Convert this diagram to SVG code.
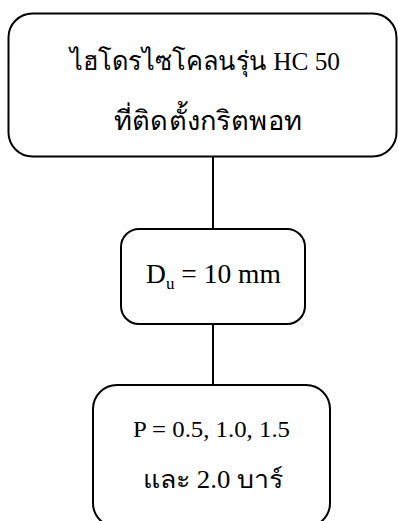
<svg xmlns="http://www.w3.org/2000/svg" width="398" height="521" viewBox="0 0 398 521">
<style>
.box{fill:#fff;stroke:#000;stroke-width:2}
.t{font-family:"Liberation Serif","Times New Roman",serif;fill:#000;text-anchor:middle}
.c{stroke:#000;stroke-width:2;fill:none}
</style>
<rect width="398" height="521" fill="#fff"/>
<g id="connectors">
<line class="c" x1="213" y1="157" x2="213" y2="229"/>
<line class="c" x1="213" y1="324" x2="213" y2="385"/>
</g>
<g id="node1">
<rect class="box" x="8.5" y="13.5" width="388" height="143" rx="24"/>
<text class="t" x="205" y="70" font-size="26" textLength="270" lengthAdjust="spacingAndGlyphs">ไฮโดรไซโคลนรุ่น HC 50</text>
<text class="t" x="208" y="130" font-size="27" textLength="188" lengthAdjust="spacingAndGlyphs">ที่ติดตั้งกริตพอท</text>
</g>
<g id="node2">
<rect class="box" x="121" y="229" width="184" height="95" rx="18"/>
<text class="t" x="213.5" y="283" font-size="27.5">D<tspan font-size="17" dy="6">u</tspan><tspan dy="-6"> = 10 mm</tspan></text>
</g>
<g id="node3">
<rect class="box" x="93" y="385" width="237" height="142" rx="24"/>
<text class="t" x="211.5" y="437" font-size="23" textLength="157" lengthAdjust="spacingAndGlyphs">P = 0.5, 1.0, 1.5</text>
<text class="t" x="213" y="488" font-size="25" textLength="140" lengthAdjust="spacingAndGlyphs">และ 2.0 บาร์</text>
</g>
</svg>
